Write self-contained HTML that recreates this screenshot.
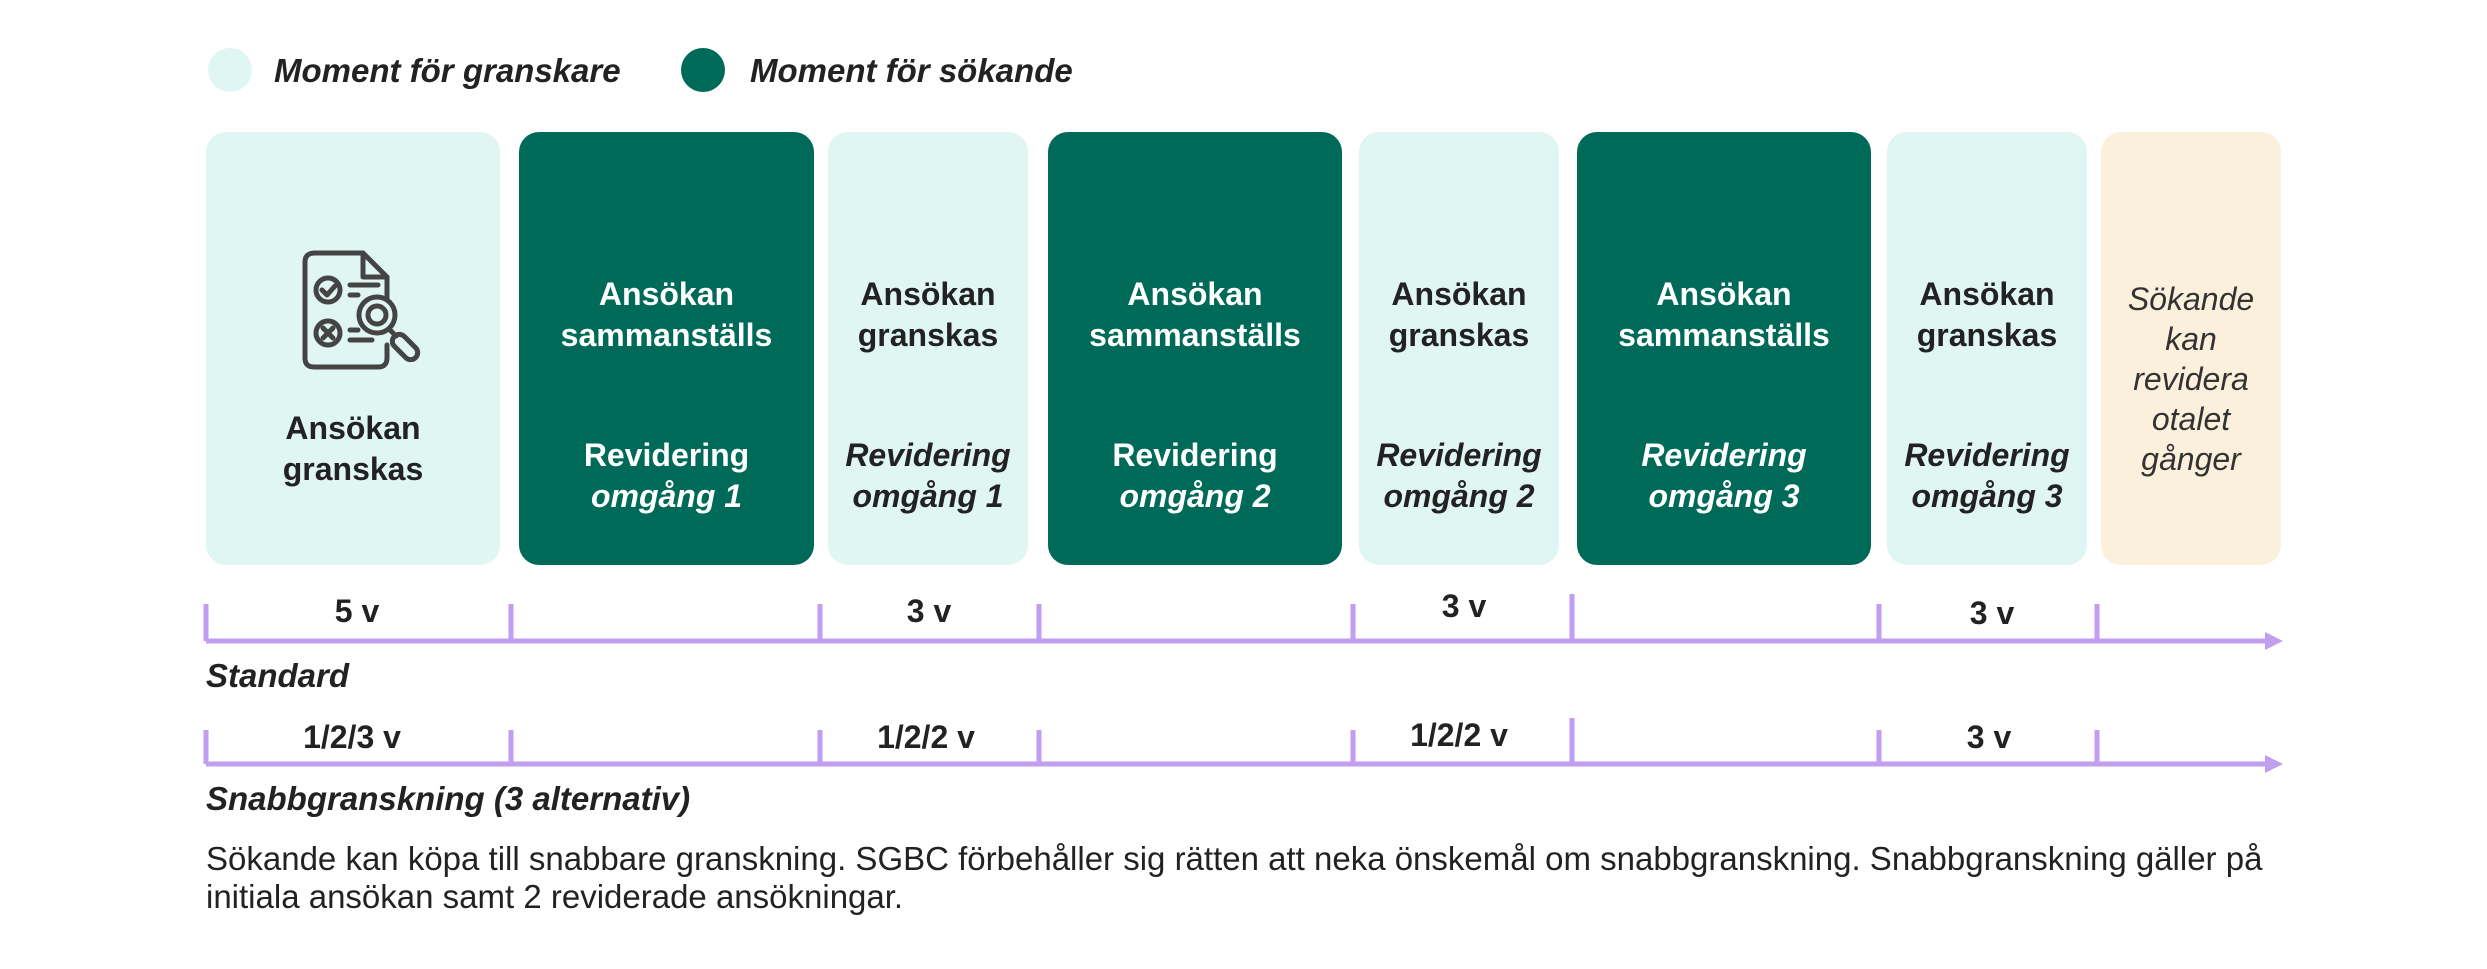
<!DOCTYPE html>
<html><head><meta charset="utf-8"><style>
body{margin:0;width:2487px;height:969px;background:#fff;position:relative;overflow:hidden;font-family:"Liberation Sans",Arial,sans-serif;color:#222}
.a{position:absolute}
.box{position:absolute;top:132px;height:433px;border-radius:20px}
.l{background:#e0f6f3}.d{background:#006a59;color:#fff}.c{background:#fbf0dc}
.t{position:absolute;left:-20px;right:-20px;text-align:center;font-weight:bold;font-size:32px;line-height:41px}
.lab{position:absolute;font-weight:bold;font-size:32px;transform:translateX(-50%);white-space:nowrap}
</style></head><body>
<div class="a" style="left:208px;top:48px;width:44px;height:44px;border-radius:50%;background:#e0f6f3"></div>
<div class="a" style="left:274px;top:52px;font-size:33px;font-weight:bold;font-style:italic">Moment för granskare</div>
<div class="a" style="left:681px;top:48px;width:44px;height:44px;border-radius:50%;background:#006a59"></div>
<div class="a" style="left:750px;top:52px;font-size:33px;font-weight:bold;font-style:italic">Moment för sökande</div>

<div class="box l" style="left:206px;width:294px">
<div class="t" style="top:276px">Ansökan<br>granskas</div></div>
<svg class="a" style="left:0;top:0" width="2487" height="969">
<g fill="none" stroke="#444" stroke-width="5" stroke-linecap="round" stroke-linejoin="round">
<path d="M387 300 V277 L363 253 H315 Q305 253 305 262 V358 Q305 367 314 367 H378 Q387 367 387 358 V345"/>
<path d="M363 253 V277 H387"/>
<circle cx="328" cy="290" r="12"/><path d="M322 290 l5 5 l8 -9"/>
<circle cx="328" cy="333" r="12"/><path d="M323 328 l10 10 M333 328 l-10 10"/>
<path d="M350 285 H378 M350 295 H358 M350 330 H358 M350 340 H372"/>
<circle cx="377" cy="315" r="18"/><circle cx="377" cy="315" r="9"/>
<path d="M390 330 l6 6"/><rect x="398" y="332" width="14" height="30" rx="7" transform="rotate(-45 405 347)"/>
</g></svg>

<div class="box d" style="left:519px;width:295px"><div class="t" style="top:142px">Ansökan<br>sammanställs</div><div class="t" style="top:303px">Revidering<br><i>omgång 1</i></div></div>
<div class="box l" style="left:828px;width:200px"><div class="t" style="top:142px">Ansökan<br>granskas</div><div class="t" style="top:303px"><i>Revidering<br>omgång 1</i></div></div>
<div class="box d" style="left:1048px;width:294px"><div class="t" style="top:142px">Ansökan<br>sammanställs</div><div class="t" style="top:303px">Revidering<br><i>omgång 2</i></div></div>
<div class="box l" style="left:1359px;width:200px"><div class="t" style="top:142px">Ansökan<br>granskas</div><div class="t" style="top:303px"><i>Revidering<br>omgång 2</i></div></div>
<div class="box d" style="left:1577px;width:294px"><div class="t" style="top:142px">Ansökan<br>sammanställs</div><div class="t" style="top:303px"><i>Revidering<br>omgång 3</i></div></div>
<div class="box l" style="left:1887px;width:200px"><div class="t" style="top:142px">Ansökan<br>granskas</div><div class="t" style="top:303px"><i>Revidering<br>omgång 3</i></div></div>
<div class="box c" style="left:2101px;width:180px"><div class="t" style="top:147px;font-weight:normal;font-style:italic;font-size:32px;line-height:40px;color:#333">Sökande<br>kan<br>revidera<br>otalet<br>gånger</div></div>

<svg class="a" style="left:0;top:0" width="2487" height="969">
<g stroke="#c29ef0" stroke-width="5" fill="none">
<path d="M206 641 H2265"/><path d="M206 764 H2265"/>
<path d="M206 604V641M511 604V641M820 604V641M1039 604V641M1353 604V641M1572 594V641M1879 604V641M2097 604V641"/>
<path d="M206 730V764M511 730V764M820 730V764M1039 730V764M1353 730V764M1572 718V764M1879 730V764M2097 730V764"/>
</g>
<path d="M2265 632 L2283 641 L2265 650 Z M2265 755 L2283 764 L2265 773 Z" fill="#c29ef0"/>
</svg>
<div class="lab" style="left:357px;top:593px">5 v</div>
<div class="lab" style="left:929px;top:593px">3 v</div>
<div class="lab" style="left:1464px;top:588px">3 v</div>
<div class="lab" style="left:1992px;top:595px">3 v</div>
<div class="lab" style="left:352px;top:719px">1/2/3 v</div>
<div class="lab" style="left:926px;top:719px">1/2/2 v</div>
<div class="lab" style="left:1459px;top:717px">1/2/2 v</div>
<div class="lab" style="left:1989px;top:719px">3 v</div>

<div class="a" style="left:206px;top:657px;font-size:33px;font-weight:bold;font-style:italic">Standard</div>
<div class="a" style="left:206px;top:780px;font-size:33px;font-weight:bold;font-style:italic">Snabbgranskning (3 alternativ)</div>
<div class="a" style="left:206px;top:840px;white-space:nowrap;font-size:33px;line-height:38px">Sökande kan köpa till snabbare granskning. SGBC förbehåller sig rätten att neka önskemål om snabbgranskning. Snabbgranskning gäller på<br>initiala ansökan samt 2 reviderade ansökningar.</div>
</body></html>
